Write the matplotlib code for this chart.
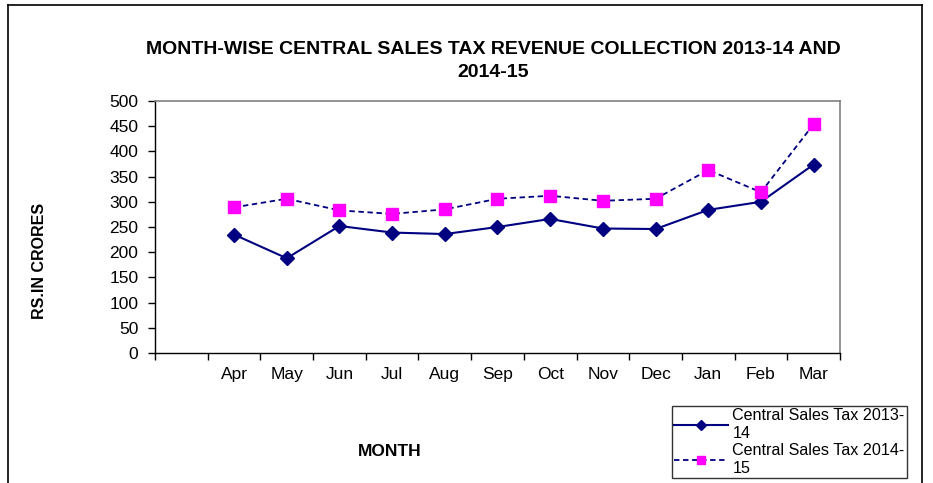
import matplotlib.pyplot as plt
import numpy as np
from matplotlib.lines import Line2D

plt.rcParams['font.family'] = ['Liberation Sans', 'DejaVu Sans']

MONTHS = ["Apr", "May", "Jun", "Jul", "Aug", "Sep", "Oct", "Nov", "Dec", "Jan", "Feb", "Mar"]
CST_2013_14 = [235, 188, 252, 239, 236, 250, 266, 247, 246, 284, 300, 374]
CST_2014_15 = [289, 306, 283, 276, 285, 306, 312, 302, 306, 363, 319, 454]
LABEL_2013_14 = "Central Sales Tax 2013-\n14"
LABEL_2014_15 = "Central Sales Tax 2014-\n15"
TITLE = "MONTH-WISE CENTRAL SALES TAX REVENUE COLLECTION 2013-14 AND\n2014-15"
YTICKS = list(range(0, 501, 50))

W, H = 933, 483
fig = plt.figure(figsize=(W / 100, H / 100), dpi=100)

# outer chart border
for xs, ys in [((8, 922), (5, 5)), ((8, 8), (5, 483)), ((922, 922), (5, 483))]:
    fig.add_artist(Line2D([x / W for x in xs], [1 - y / H for y in ys],
                          color="black", lw=1.2))

ax = fig.add_axes([155 / W, 1 - 353 / H, 685 / W, 252 / H])

# first category slot is left empty, like the original
x = np.arange(len(MONTHS)) + 1.5
ax.plot(x, CST_2013_14, color="#000080", lw=1.5, marker="D", markersize=7,
        markerfacecolor="#000080", markeredgecolor="#000080", label=LABEL_2013_14)
ax.plot(x, CST_2014_15, color="#000080", lw=1.3, ls=(0, (3, 2)), marker="s", markersize=9,
        markerfacecolor="#FF00FF", markeredgecolor="#FF00FF", label=LABEL_2014_15)

ax.set_xlim(0, len(MONTHS) + 1)
ax.set_ylim(0, 500)
ax.set_yticks(YTICKS)
ax.set_xticks(x)
ax.set_xticklabels(MONTHS)
ax.set_xticks(np.arange(0, len(MONTHS) + 2), minor=True)
ax.tick_params(axis="x", which="major", length=0, pad=10, labelsize=12.5)
ax.tick_params(axis="x", which="minor", length=5, direction="out", width=1)
ax.tick_params(axis="y", length=5, direction="out", width=1, labelsize=12.5, pad=7)

for s in ["top", "right"]:
    ax.spines[s].set_color("#808080")
    ax.spines[s].set_linewidth(1.2)
for s in ["left", "bottom"]:
    ax.spines[s].set_color("black")
    ax.spines[s].set_linewidth(1)

fig.text(493 / W, 1 - 61 / H, TITLE, ha="center", va="center", fontsize=14,
         fontweight="bold", linespacing=1.45)
fig.text(40 / W, 1 - 261 / H, "RS.IN CRORES", rotation=90, ha="center", va="center",
         fontsize=11.5, fontweight="bold")
fig.text(390 / W, 1 - 451 / H, "MONTH", ha="center", va="center",
         fontsize=12.5, fontweight="bold")

leg = fig.legend(loc="upper left", bbox_to_anchor=(672 / W, 1 - 406 / H),
                 fontsize=11.6, frameon=True, fancybox=False, handlelength=3.3,
                 handletextpad=0.3, borderpad=0.15, labelspacing=0.1, borderaxespad=0,
                 markerscale=0.7)
leg.get_frame().set_edgecolor("black")
leg.get_frame().set_linewidth(1)
for t in leg.get_texts():
    t.set_linespacing(1.25)

fig.savefig("out.png", dpi=100)
